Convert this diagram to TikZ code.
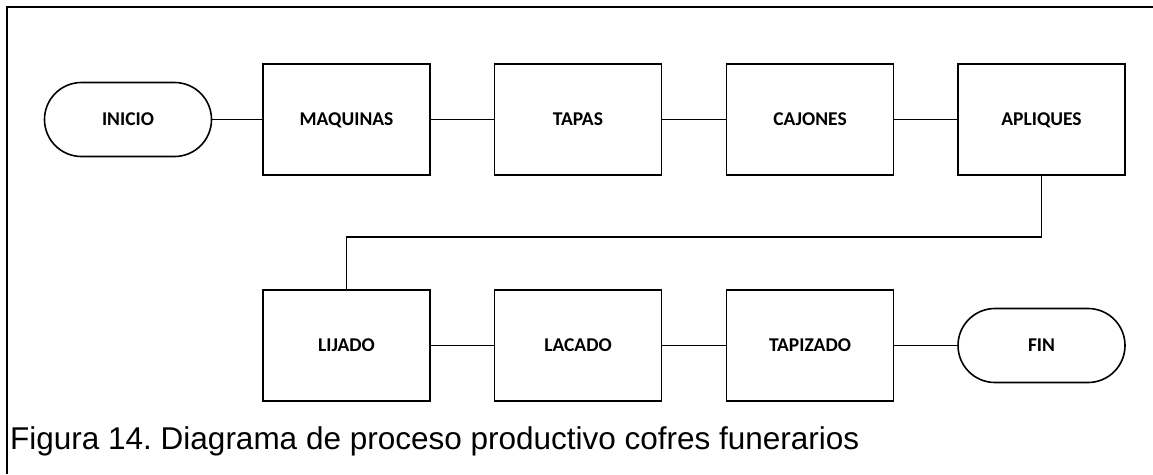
\documentclass[tikz,border=0pt]{standalone}
\usepackage{fontspec}
\setmainfont{Liberation Sans}
\newfontfamily\cajafont{Carlito}
\usepackage{tikz}
\frenchspacing
\tikzset{proceso/.style={draw, line width=1.6pt, minimum width=167pt, minimum height=111pt,
    inner sep=0pt, text height=12.5pt, text depth=0pt,
    font=\cajafont\bfseries\fontsize{19.5}{19.5}\selectfont},
  terminal/.style={proceso, rounded corners=37pt, minimum height=74pt},
  linea/.style={line width=1.6pt}}

\begin{document}
\begin{tikzpicture}[x=1pt, y=-1pt]
\useasboundingbox (0,0) rectangle (1153,474);
\draw[line width=1.2pt] (1153,7) -- (7,7) -- (7,474);

\node[terminal] (inicio) at (128,119.5) {INICIO};
\foreach \nombre/\texto/\x in {maquinas/MAQUINAS/346.5, tapas/TAPAS/578, cajones/CAJONES/810, apliques/APLIQUES/1041.5}
  \node[proceso] (\nombre) at (\x,119.5) {\texto};

\foreach \nombre/\texto/\x in {lijado/LIJADO/346.5, lacado/LACADO/578, tapizado/TAPIZADO/810}
  \node[proceso] (\nombre) at (\x,345.5) {\texto};
\node[terminal] (fin) at (1041.5,345.5) {FIN};

\coordinate (codo) at (1041.5,237);

\draw[linea] (inicio) -- (maquinas) -- (tapas) -- (cajones) -- (apliques);
\draw[linea] (apliques.south) -- (codo) -| (lijado.north);
\draw[linea] (lijado) -- (lacado) -- (tapizado) -- (fin);

\node[anchor=base west, inner sep=0pt, font=\fontsize{31.5}{31.5}\selectfont] (pie) at (10,449)
  {Figura 14. Diagrama de proceso productivo cofres funerarios};
\end{tikzpicture}
\end{document}
